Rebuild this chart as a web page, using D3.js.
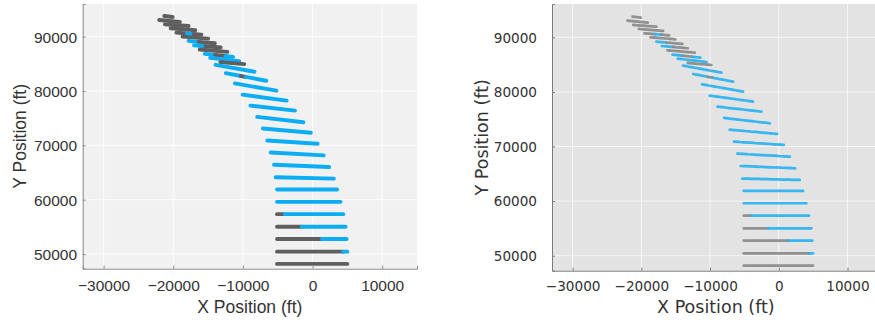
<!DOCTYPE html>
<html>
<head>
<meta charset="utf-8">
<script src="https://cdn.jsdelivr.net/npm/d3@7"></script>
<style>
  body { margin: 0; background: #fff; }
</style>
</head>
<body>
<div id="chart"></div>
<script>
// tick values shared by both panels
const xTicks = [-30000, -20000, -10000, 0, 10000];
const yTicks = [50000, 60000, 70000, 80000, 90000];

// streak segments (ft), one entry per colour run
const segX0 = [-21290, -22020, -21190, -20370, -19550, -18040, -17070, -18670, -17800, -16340,
  -17020, -15370, -16200, -15470, -14000, -12500, -14700, -13240, -13920, -12460,
  -10300, -9600, -11150, -10040, -8920, -7950, -7130, -6500, -6010, -5530,
  -5290, -5100, -5100, -5100, -3980, -5100, -1550, -5100, 1360, -5100, 4400, -5100];
const segY0 = [93790, 93050, 92260, 91530, 90730, 90580, 90480, 90000, 89210, 89040,
  88410, 88230, 87620, 86830, 86630, 86430, 86090, 85300, 84810, 83280,
  82760, 82590, 81390, 79320, 77300, 75230, 73090, 70890, 68690, 66430,
  64120, 61860, 59600, 57340, 57340, 55020, 55020, 52760, 52760, 50440, 50440, 48180];
const segX1 = [-20080, -19060, -17800, -16830, -18040, -17070, -15960, -14990, -16340, -14020,
  -15370, -13190, -12220, -14000, -12500, -11400, -10520, -9800, -8340, -10300,
  -9600, -6640, -5190, -3730, -2520, -1310, -240, 730, 1600, 2380,
  3060, 3540, 4030, -3980, 4410, -1550, 4750, 1360, 4900, 4400, 5000, 5000];
const segY1 = [93600, 92690, 91950, 91160, 90580, 90480, 90370, 89630, 89040, 88780,
  88230, 87990, 87190, 86630, 86430, 86280, 85480, 84930, 83530, 82760,
  82590, 81880, 80050, 78220, 76390, 74250, 72300, 70280, 68140, 66000,
  63870, 61860, 59600, 57340, 57340, 55020, 55020, 52760, 52760, 50440, 50440, 48180];
const segKind = ['g', 'g', 'g', 'g', 'g', 'b', 'g', 'g', 'b', 'g',
  'b', 'g', 'g', 'b', 'g', 'b', 'b', 'g', 'b', 'b',
  'g', 'b', 'b', 'b', 'b', 'b', 'b', 'b', 'b', 'b',
  'b', 'b', 'b', 'g', 'b', 'g', 'b', 'g', 'b', 'g', 'b', 'g'];

const W = 875, H = 324;

const segs = segX0.map((x, i) => ({
  pts: [[x, segY0[i]], [segX1[i], segY1[i]]],
  kind: segKind[i]
}));

const svg = d3.select('#chart').append('svg')
  .attr('width', W)
  .attr('height', H)
  .attr('viewBox', [0, 0, W, H]);

const panels = [
  {
    id: 'p1', left: 82.7, right: 417, top: 4, bottom: 268.7,
    yDomain: [47300, 96000],
    bg: '#f1f1f1', grid: '#fcfcfc', axis: '#8a8a8a',
    font: '"Liberation Sans", Arial, sans-serif', tickSize: 15.5, labelSize: 17.5,
    gray: '#5f5f5f', blue: '#0badf5', strokeW: 3.9, cap: 'round', dash: null, opacity: 1,
    yTickRight: 77, xTickBase: 291.5, xLabelBase: 313, yLabelX: 20, textColor: '#333'
  },
  {
    id: 'p2', left: 552, right: 881.8, top: 4, bottom: 270.7,
    yDomain: [47250, 96100],
    bg: '#e3e3e3', grid: '#f6f6f6', axis: '#7a7a7a',
    font: '"DejaVu Sans", sans-serif', tickSize: 13.6, labelSize: 17.5,
    gray: '#878787', blue: '#25b0f2', strokeW: 2.7, cap: 'round', dash: '4.5 0.6', opacity: 0.9,
    yTickRight: 537, xTickBase: 291.5, xLabelBase: 313, yLabelX: 481.7, textColor: '#333'
  }
];

panels.forEach(p => {
  const x = d3.scaleLinear().domain([-33000, 15000]).range([p.left, p.right]);
  const y = d3.scaleLinear().domain(p.yDomain).range([p.bottom, p.top]);
  const g = svg.append('g');

  g.append('rect')
    .attr('x', p.left).attr('y', p.top)
    .attr('width', p.right - p.left).attr('height', p.bottom - p.top)
    .attr('fill', p.bg);

  // grid
  g.append('g').selectAll('line').data(xTicks).join('line')
    .attr('x1', d => x(d)).attr('x2', d => x(d))
    .attr('y1', p.top).attr('y2', p.bottom)
    .attr('stroke', p.grid).attr('stroke-width', 1);
  g.append('g').selectAll('line').data(yTicks).join('line')
    .attr('x1', p.left).attr('x2', p.right)
    .attr('y1', d => y(d)).attr('y2', d => y(d))
    .attr('stroke', p.grid).attr('stroke-width', 1);

  svg.append('clipPath').attr('id', 'clip-' + p.id)
    .append('rect')
    .attr('x', p.left).attr('y', p.top)
    .attr('width', p.right - p.left).attr('height', p.bottom - p.top);

  const line = d3.line().x(d => x(d[0])).y(d => y(d[1]));

  g.append('g').attr('clip-path', `url(#clip-${p.id})`)
    .selectAll('path').data(segs).join('path')
    .attr('d', d => line(d.pts))
    .attr('fill', 'none')
    .attr('stroke', d => d.kind === 'g' ? p.gray : p.blue)
    .attr('stroke-width', p.strokeW)
    .attr('stroke-linecap', p.cap)
    .attr('stroke-dasharray', p.dash)
    .attr('opacity', p.opacity);

  // axes
  const fmt = d3.format('d');
  const ax = g.append('g')
    .attr('transform', `translate(0,${p.bottom})`)
    .call(d3.axisBottom(x).tickValues(xTicks).tickFormat(fmt).tickSize(-3).tickPadding(0));
  const ay = g.append('g')
    .attr('transform', `translate(${p.left},0)`)
    .call(d3.axisLeft(y).tickValues(yTicks).tickFormat(fmt).tickSize(-3).tickPadding(0));

  [ax, ay].forEach(a => {
    a.select('.domain').attr('stroke', p.axis);
    a.selectAll('.tick line').attr('stroke', p.axis);
    a.selectAll('.tick text')
      .attr('fill', p.textColor)
      .style('font-family', p.font)
      .style('font-size', p.tickSize + 'px');
  });
  ax.selectAll('.tick text').attr('y', p.xTickBase - p.bottom).attr('dy', null);
  ay.selectAll('.tick text').attr('x', p.yTickRight - p.left).attr('dy', '0.36em');

  g.append('text')
    .attr('x', (x(-33000) + x(15000)) / 2 - (p.id === 'p2' ? 1 : 0))
    .attr('y', p.xLabelBase)
    .attr('text-anchor', 'middle')
    .attr('fill', p.textColor)
    .style('font-family', p.font)
    .style('font-size', p.labelSize + 'px')
    .text('X Position (ft)');

  g.append('text')
    .attr('transform', `translate(${p.yLabelX},${(p.top + p.bottom) / 2}) rotate(-90)`)
    .attr('text-anchor', 'middle')
    .attr('dy', '0.35em')
    .attr('fill', p.textColor)
    .style('font-family', p.font)
    .style('font-size', p.labelSize + 'px')
    .text('Y Position (ft)');
});
</script>
</body>
</html>
